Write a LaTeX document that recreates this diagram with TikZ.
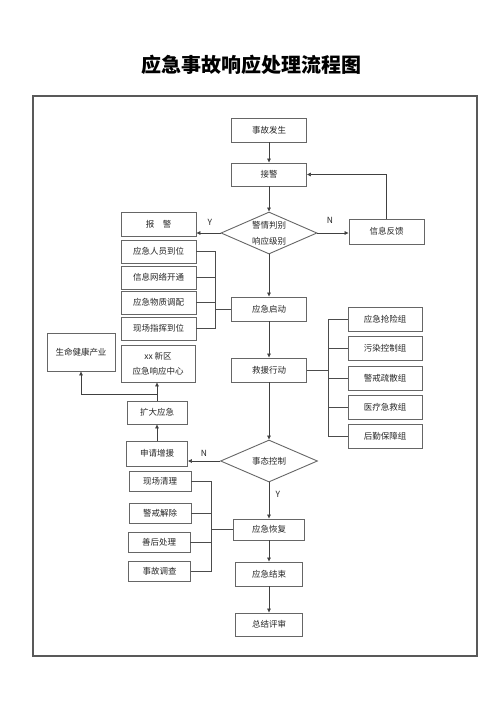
\documentclass[tikz,border=0pt]{standalone}
\usepackage{fontspec}
\setmainfont{Noto Sans CJK SC}
\usetikzlibrary{shapes, arrows.meta}

\begin{document}
\begin{tikzpicture}[
			x=1pt, y=-1pt,
			every node/.style={font=\fontsize{8.5}{10}\selectfont, text=black!85},
			process/.style={draw=black!60, line width=0.9pt, minimum width=75pt, minimum height=24pt, inner sep=0pt},
			item/.style={process, minimum width=62pt, minimum height=20pt},
			decision/.style={draw=black!60, line width=0.9pt, diamond, shape aspect=2.3, inner sep=0pt, minimum width=96pt, minimum height=42pt, align=center, font=\fontsize{8.5}{16}\selectfont},
			to/.style={-{Triangle[length=4pt,width=3.5pt]}, line width=0.7pt, draw=black!75},
			link/.style={line width=0.7pt, draw=black!70},
			yn/.style={font=\fontsize{8.5}{10}\selectfont}
			]
			
			\useasboundingbox (0,0) rectangle (500,707);
			
			\node[font=\bfseries\fontsize{20}{24}\selectfont, text=black] (title) at (251,65) {应急事故响应处理流程图};
			\draw[draw=black!65, line width=1.1pt] (33,96) rectangle (477,656);
			
			% main column
			\node[process] (occur) at (269,130) {事故发生};
			\node[process, minimum height=23pt] (receive) at (269,174.5) {接警};
			\node[decision] (judge) at (269,233) {警情判别\\响应级别};
			\node[process] (alarm) at (158.5,224) {报\hspace{1em}警};
			\node[process, minimum height=25pt] (feedback) at (386.5,231.5) {信息反馈};
			\node[process] (launch) at (269,309) {应急启动};
			\node[process] (rescue) at (269,370) {救援行动};
			\node[decision, minimum width=97pt] (control) at (269,461) {事态控制};
			\node[process, minimum width=71pt, minimum height=21pt] (recover) at (269,529.5) {应急恢复};
			\node[process, minimum width=67pt] (finish) at (269,574) {应急结束};
			\node[process, minimum width=67pt, minimum height=23pt] (review) at (269,624.5) {总结评审};
			
			% left list
			\node[process, minimum height=23pt] (staff) at (158.5,251.5) {应急人员到位};
			\node[process, minimum height=23pt] (network) at (158.5,277.5) {信息网络开通};
			\node[process, minimum height=23pt] (supply) at (158.5,302.5) {应急物质调配};
			\node[process, minimum height=23pt] (command) at (158.5,328.5) {现场指挥到位};
			
			% rescue groups
			\node[process, minimum width=74pt] (rob) at (385,319.5) {应急抢险组};
			\node[process, minimum width=74pt] (pollute) at (385,348.5) {污染控制组};
			\node[process, minimum width=74pt] (guard) at (385,378) {警戒疏散组};
			\node[process, minimum width=74pt] (medical) at (385,407.5) {医疗急救组};
			\node[process, minimum width=74pt] (logistic) at (385,436.5) {后勤保障组};
			
			% expansion
			\node[process, minimum width=68pt, minimum height=38pt] (health) at (81,352) {生命健康产业};
			\node[process, minimum width=74pt, minimum height=37pt, align=center, font=\fontsize{8.5}{15}\selectfont] (center) at (158,363.5) {xx 新区\\应急响应中心};
			\node[process, minimum width=60pt, minimum height=23pt] (expand) at (157,412.5) {扩大应急};
			\node[process, minimum width=61pt, minimum height=25pt] (request) at (157,453.5) {申请增援};
			
			% recovery list
			\node[item] (clean) at (160,481) {现场清理};
			\node[item] (lift) at (160,513) {警戒解除};
			\node[item] (after) at (159,542) {善后处理};
			\node[item] (survey) at (159.5,571) {事故调查};
			
			\node[yn] (ya) at (210,222) {Y};
			\node[yn] (na) at (330,220) {N};
			\node[yn] (nb) at (204,453) {N};
			\node[yn] (yb) at (278,494) {Y};
			
			\coordinate (lbus) at (215,309);
			\coordinate (rbus) at (328,370);
			\coordinate (bbus) at (211,529.5);
			\coordinate (fork) at (157,394);
			
			\draw[to] (occur) -- (receive);
			\draw[to] (receive) -- (judge);
			\draw[to] (judge.west) -- (judge.west -| alarm.east);
			\draw[to] (judge.east) -- (judge.east -| feedback.west);
			\draw[to] (feedback.north) |- (receive.east);
			\draw[to] (judge.south) -- (launch.north);
			\draw[to] (launch) -- (rescue);
			\draw[to] (rescue.south) -- (control.north);
			\draw[to] (control.west) -- (control.west -| request.east);
			\draw[to] (control.south) -- (recover.north);
			\draw[to] (recover) -- (finish);
			\draw[to] (finish) -- (review);
			\draw[to] (request) -- (expand);
			\draw[to] (expand.north) -- (expand.north |- center.south);
			\draw[to] (fork) -| (health.south);
			
			\draw[link] (staff.east) -| (lbus);
			\draw[link] (command.east) -| (lbus);
			\draw[link] (network.east) -- (network.east -| lbus);
			\draw[link] (supply.east) -- (supply.east -| lbus);
			\draw[link] (lbus) -- (launch.west);
			
			\draw[link] (rescue.east) -- (rbus);
			\draw[link] (rob.west) -| (rbus);
			\draw[link] (logistic.west) -| (rbus);
			\draw[link] (pollute.west) -- (pollute.west -| rbus);
			\draw[link] (guard.west) -- (guard.west -| rbus);
			\draw[link] (medical.west) -- (medical.west -| rbus);
			
			\draw[link] (clean.east) -| (bbus);
			\draw[link] (survey.east) -| (bbus);
			\draw[link] (lift.east) -- (lift.east -| bbus);
			\draw[link] (after.east) -- (after.east -| bbus);
			\draw[link] (bbus) -- (recover.west);
			
			\end{tikzpicture}
\end{document}
